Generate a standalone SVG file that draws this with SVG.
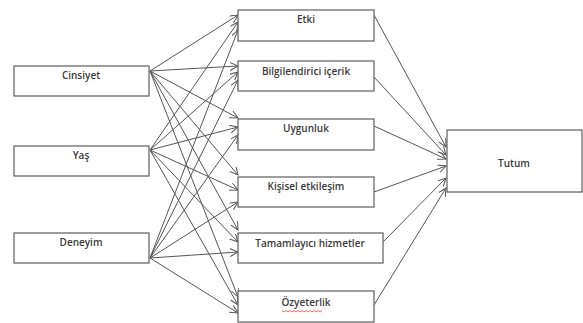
<svg xmlns="http://www.w3.org/2000/svg" width="583" height="323" viewBox="0 0 583 323">
<defs>
<style>
.box{fill:#fff;stroke:#6a6a6a;stroke-width:1.3}
.lbl{font-family:"Open Sans","Liberation Sans",sans-serif;font-size:10px;font-weight:600;fill:#3a3a3a;text-anchor:middle;dominant-baseline:central}
.c{fill:none;stroke:#555;stroke-width:1;marker-end:url(#ah)}
</style>
<marker id="ah" markerWidth="9" markerHeight="9" refX="8" refY="4" orient="auto" markerUnits="userSpaceOnUse">
<path d="M0,0 L8,4 L0,8" fill="none" stroke="#555" stroke-width="1"/>
</marker>
</defs>
<rect width="583" height="323" fill="#fff"/>
<g id="connectors">
<line class="c" x1="150" y1="71" x2="238" y2="15"/>
<line class="c" x1="150" y1="71" x2="238" y2="66"/>
<line class="c" x1="150" y1="71" x2="238" y2="118"/>
<line class="c" x1="150" y1="71" x2="238" y2="175"/>
<line class="c" x1="150" y1="71" x2="238" y2="230"/>
<line class="c" x1="150" y1="71" x2="238" y2="297"/>
<line class="c" x1="150" y1="150" x2="238" y2="22"/>
<line class="c" x1="150" y1="150" x2="238" y2="72"/>
<line class="c" x1="150" y1="150" x2="238" y2="127"/>
<line class="c" x1="150" y1="150" x2="238" y2="190"/>
<line class="c" x1="150" y1="150" x2="238" y2="242"/>
<line class="c" x1="150" y1="150" x2="238" y2="305"/>
<line class="c" x1="150" y1="258" x2="238" y2="30"/>
<line class="c" x1="150" y1="258" x2="238" y2="80"/>
<line class="c" x1="150" y1="258" x2="238" y2="135"/>
<line class="c" x1="150" y1="258" x2="238" y2="202"/>
<line class="c" x1="150" y1="258" x2="238" y2="252"/>
<line class="c" x1="150" y1="258" x2="238" y2="313"/>
<line class="c" x1="374" y1="15" x2="446" y2="147"/>
<line class="c" x1="374" y1="77" x2="446" y2="155"/>
<line class="c" x1="374" y1="126" x2="446" y2="159"/>
<line class="c" x1="374" y1="192" x2="446" y2="166"/>
<line class="c" x1="383" y1="242" x2="446" y2="178"/>
<line class="c" x1="374" y1="305" x2="446" y2="188"/>
</g>
<g id="cinsiyet"><rect class="box" x="14" y="66" width="135" height="30"/><text class="lbl" x="81" y="75">Cinsiyet</text></g>
<g id="yas"><rect class="box" x="14" y="146" width="135" height="30"/><text class="lbl" x="81" y="155">Yaş</text></g>
<g id="deneyim"><rect class="box" x="14" y="233" width="135" height="30"/><text class="lbl" x="81" y="242">Deneyim</text></g>
<g id="etki"><rect class="box" x="238" y="10" width="136" height="31"/><text class="lbl" x="306" y="19">Etki</text></g>
<g id="bilgilendirici"><rect class="box" x="238" y="61" width="136" height="30"/><text class="lbl" x="306" y="71">Bilgilendirici içerik</text></g>
<g id="uygunluk"><rect class="box" x="238" y="119" width="136" height="31"/><text class="lbl" x="306" y="128">Uygunluk</text></g>
<g id="kisisel"><rect class="box" x="238" y="177" width="136" height="30"/><text class="lbl" x="306" y="186">Kişisel etkileşim</text></g>
<g id="tamamlayici"><rect class="box" x="238" y="233" width="145" height="30"/><text class="lbl" x="310" y="243">Tamamlayıcı hizmetler</text></g>
<g id="ozyeterlik"><rect class="box" x="238" y="291" width="136" height="31"/><text class="lbl" x="306" y="302">Özyeterlik</text>
<path d="M282,310.5 l2,1.5 l2,-1.5 l2,1.5 l2,-1.5 l2,1.5 l2,-1.5 l2,1.5 l2,-1.5 l2,1.5 l2,-1.5 l2,1.5 l2,-1.5 l2,1.5 l2,-1.5 l2,1.5 l2,-1.5 l2,1.5 l2,-1.5 l2,1.5 l2,-1.5" fill="none" stroke="#e04040" stroke-width="0.8"/></g>
<g id="tutum"><rect class="box" x="447" y="130" width="135" height="62"/><text class="lbl" x="514" y="163">Tutum</text></g>
</svg>
